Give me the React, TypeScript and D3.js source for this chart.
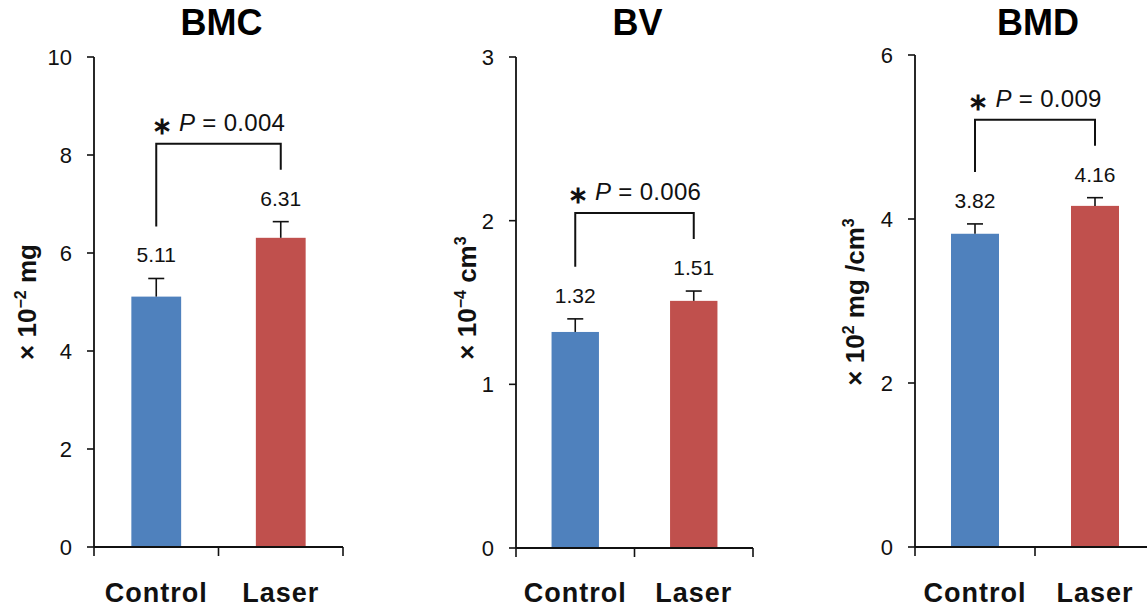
import React from "react";
import * as d3 from "d3";

const categories = ["Control", "Laser"];
const colors = ["#4F81BD", "#C0504D"];

const bmcValues = [5.11, 6.31];
const bmcErrors = [0.37, 0.33];
const bmcTicks = [0, 2, 4, 6, 8, 10];

const bvValues = [1.32, 1.51];
const bvErrors = [0.08, 0.06];
const bvTicks = [0, 1, 2, 3];

const bmdValues = [3.82, 4.16];
const bmdErrors = [0.12, 0.1];
const bmdTicks = [0, 2, 4, 6];

const titles = ["BMC", "BV", "BMD"];
const pLabels = ["0.004", "0.006", "0.009"];

// y-axis unit labels: [text, isSuperscript] parts
const bmcUnit: [string, boolean][] = [["× 10", false], ["−2", true], [" mg", false]];
const bvUnit: [string, boolean][] = [["× 10", false], ["−4", true], [" cm", false], ["3", true]];
const bmdUnit: [string, boolean][] = [["× 10", false], ["2", true], [" mg /cm", false], ["3", true]];

const FONT = "'Liberation Sans', Arial, Helvetica, sans-serif";

type Panel = {
  title: string;
  values: number[];
  errors: number[];
  ticks: number[];
  p: string;
  x0: number;
  x1: number;
  yTop: number;
  yBottom: number;
  labelX: number;
  labelY: number;
  unit: [string, boolean][];
};

const panels: Panel[] = [
  {
    title: titles[0],
    values: bmcValues,
    errors: bmcErrors,
    ticks: bmcTicks,
    p: pLabels[0],
    x0: 94,
    x1: 343,
    yTop: 57,
    yBottom: 547,
    labelX: 27,
    labelY: 302,
    unit: bmcUnit,
  },
  {
    title: titles[1],
    values: bvValues,
    errors: bvErrors,
    ticks: bvTicks,
    p: pLabels[1],
    x0: 516,
    x1: 753,
    yTop: 57,
    yBottom: 548,
    labelX: 467,
    labelY: 298,
    unit: bvUnit,
  },
  {
    title: titles[2],
    values: bmdValues,
    errors: bmdErrors,
    ticks: bmdTicks,
    p: pLabels[2],
    x0: 915,
    x1: 1155,
    yTop: 55,
    yBottom: 547,
    labelX: 855,
    labelY: 302,
    unit: bmdUnit,
  },
];

const LABEL_SIZE = 26;
const SUP_SIZE = 16;

function UnitLabel({ parts }: { parts: [string, boolean][] }) {
  const out: React.ReactNode[] = [];
  let raised = false;
  parts.forEach(([s, isSup], i) => {
    let dy = 0;
    if (isSup && !raised) {
      dy = -10;
      raised = true;
    } else if (!isSup && raised) {
      dy = 10;
      raised = false;
    }
    out.push(
      <tspan key={i} dy={dy} style={{ fontSize: (isSup ? SUP_SIZE : LABEL_SIZE) + "px" }}>
        {s}
      </tspan>
    );
  });
  return <>{out}</>;
}

function PanelChart({ pn }: { pn: Panel }) {
  const max = pn.ticks[pn.ticks.length - 1];
  const y = d3.scaleLinear().domain([0, max]).range([pn.yBottom, pn.yTop]);
  const x = d3
    .scaleBand<string>()
    .domain(categories)
    .range([pn.x0, pn.x1])
    .paddingInner(0.6)
    .paddingOuter(0.3);
  const step = x.step();
  const bw = x.bandwidth();
  const cx = (c: string) => (x(c) as number) + bw / 2;
  const caps = pn.values.map((v, i) => y(v + pn.errors[i]));
  const armBottoms = caps.map((c) => c - 52);
  const bracketY = Math.min(...armBottoms) - 26;
  const midX = (pn.x0 + pn.x1) / 2;
  const xTicks = [pn.x0, pn.x0 + step, pn.x1];

  return (
    <g>
      <text
        x={midX + 3}
        y={35}
        textAnchor="middle"
        fontSize={36}
        fontWeight="bold"
        fontFamily={FONT}
      >
        {pn.title}
      </text>
      {categories.map((c, i) => (
        <rect
          key={c}
          x={x(c)}
          y={y(pn.values[i])}
          width={bw}
          height={y(0) - y(pn.values[i])}
          fill={colors[i]}
        />
      ))}
      {categories.map((c, i) => (
        <g key={"e" + c} stroke="#111" strokeWidth={1.6}>
          <line x1={cx(c)} x2={cx(c)} y1={y(pn.values[i])} y2={caps[i]} />
          <line x1={cx(c) - 8} x2={cx(c) + 8} y1={caps[i]} y2={caps[i]} />
        </g>
      ))}
      {categories.map((c, i) => (
        <text
          key={"v" + c}
          x={cx(c)}
          y={caps[i] - 16}
          textAnchor="middle"
          fontSize={21}
          fontFamily={FONT}
          fill="#111"
        >
          {pn.values[i].toFixed(2)}
        </text>
      ))}
      <path
        d={`M${cx(categories[0])},${armBottoms[0]}V${bracketY}H${cx(categories[1])}V${armBottoms[1]}`}
        fill="none"
        stroke="#111"
        strokeWidth={2}
      />
      <text
        x={(cx(categories[0]) + cx(categories[1])) / 2}
        y={bracketY - 13}
        textAnchor="middle"
        fontSize={24}
        fontFamily={FONT}
        fill="#111"
        letterSpacing={0.3}
      >
        <tspan fontWeight="bold" fontSize={24} dy={3}>∗</tspan>
        <tspan dy={-3}> </tspan>
        <tspan fontStyle="italic">P</tspan>
        <tspan> = {pn.p}</tspan>
      </text>
      <line x1={pn.x0} x2={pn.x0} y1={pn.yTop} y2={pn.yBottom} stroke="#111" strokeWidth={1.8} />
      {pn.ticks.map((t) => (
        <g key={"t" + t}>
          <line x1={pn.x0 - 7} x2={pn.x0} y1={y(t)} y2={y(t)} stroke="#111" strokeWidth={1.6} />
          <text
            x={pn.x0 - 22}
            y={y(t)}
            dy="0.36em"
            textAnchor="end"
            fontSize={22}
            fontFamily={FONT}
            fill="#111"
          >
            {t}
          </text>
        </g>
      ))}
      <line x1={pn.x0} x2={pn.x1} y1={pn.yBottom} y2={pn.yBottom} stroke="#111" strokeWidth={1.8} />
      {xTicks.map((t, i) => (
        <line key={"xt" + i} x1={t} x2={t} y1={pn.yBottom} y2={pn.yBottom + 9} stroke="#111" strokeWidth={1.6} />
      ))}
      {categories.map((c) => (
        <text
          key={"c" + c}
          x={cx(c)}
          y={602}
          textAnchor="middle"
          fontSize={27}
          fontWeight="bold"
          fontFamily={FONT}
          letterSpacing={1}
          fill="#111"
        >
          {c}
        </text>
      ))}
      <text
        transform={`translate(${pn.labelX + 9},${pn.labelY}) rotate(-90)`}
        textAnchor="middle"
        style={{ fontSize: LABEL_SIZE + "px", fontWeight: "bold", fontFamily: FONT }}
        fill="#111"
      >
        <UnitLabel parts={pn.unit} />
      </text>
    </g>
  );
}

export default function App() {
  return (
    <svg
      width={1147}
      height={609}
      style={{ position: "absolute", left: 0, top: 0, background: "#fff" }}
    >
      <rect width={1147} height={609} fill="#fff" />
      {panels.map((pn) => (
        <PanelChart key={pn.title} pn={pn} />
      ))}
    </svg>
  );
}
